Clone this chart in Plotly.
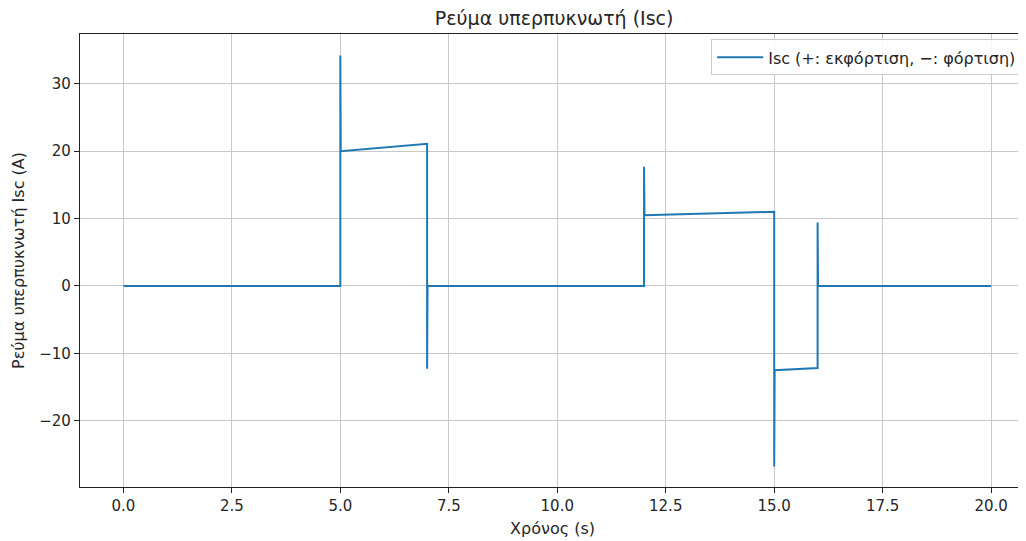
import plotly.graph_objects as go

# Time (s) and supercapacitor current Isc (A)
t = [0.0, 5.0, 5.0, 5.01, 7.0, 7.0, 7.01, 12.0, 12.0, 12.0, 12.01, 15.0, 15.0, 15.0, 15.01, 16.0, 16.0, 16.0, 16.01, 20.0]
isc = [0.0, 0.0, 34.2, 20.0, 21.1, -12.3, 0.0, 0.0, 17.7, 5.6, 10.5, 11.0, -26.8, -3.7, -12.5, -12.2, 9.4, -5.5, 0.0, 0.0]

title_text = "Ρεύμα υπερπυκνωτή (Isc)"
x_label = "Χρόνος (s)"
y_label = "Ρεύμα υπερπυκνωτή Isc (A)"
series_name = "Isc (+: εκφόρτιση, −: φόρτιση)"

font_family = "DejaVu Sans"
txt = "#262626"

fig = go.Figure()
fig.add_trace(go.Scatter(x=t, y=isc, mode="lines", name=series_name,
                         line=dict(color="#1f77b4", width=2)))

axis_common = dict(showline=True, linecolor="#222", linewidth=1.2, mirror=True,
                   ticks="outside", ticklen=5, tickcolor="#222",
                   showgrid=True, gridcolor="#c8c8c8", gridwidth=1, zeroline=False,
                   tickfont=dict(family=font_family, size=15, color=txt))

fig.update_layout(
    width=1018, height=533,
    margin=dict(l=72, r=1, t=26, b=54),
    paper_bgcolor="white", plot_bgcolor="white",
    title=dict(text=title_text, x=0.5365, xanchor="center", y=0.981, yanchor="middle",
               font=dict(family=font_family, size=19, color=txt)),
    showlegend=True,
    legend=dict(x=0.997, xanchor="right", y=0.988, yanchor="top", itemwidth=46,
                bgcolor="rgba(255,255,255,0.85)", bordercolor="#cccccc", borderwidth=1,
                font=dict(family=font_family, size=16, color=txt)),
    font=dict(family=font_family),
)
fig.update_xaxes(range=[-1.0, 20.78], tick0=0, dtick=2.5, tickformat=".1f",
                 title=dict(text=x_label, font=dict(family=font_family, size=16, color=txt), standoff=8),
                 **axis_common)
fig.update_yaxes(range=[-29.85, 37.4], tick0=0, dtick=10,
                 title=dict(text=y_label, font=dict(family=font_family, size=16, color=txt), standoff=10),
                 **axis_common)

fig.write_html("out.html")
